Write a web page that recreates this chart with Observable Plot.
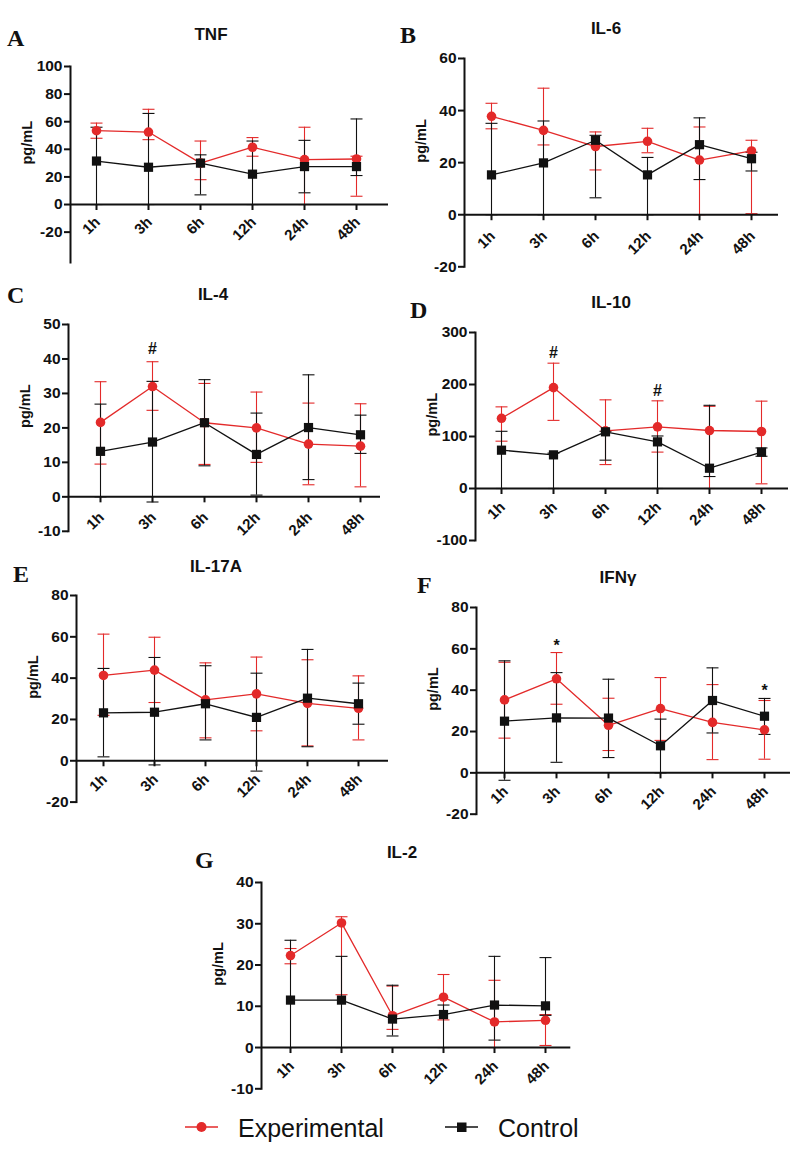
<!DOCTYPE html>
<html><head><meta charset="utf-8">
<script src="https://cdn.jsdelivr.net/npm/d3@7"></script>
<script src="https://cdn.jsdelivr.net/npm/@observablehq/plot@0.6"></script>
<style>
body{margin:0;background:#fff;}
#page{position:relative;width:800px;height:1149px;overflow:hidden;font-family:"Liberation Sans",Arial,sans-serif;color:#111;}
.panel{position:absolute;overflow:visible;}
.letter{position:absolute;font-family:"Liberation Serif","Times New Roman",serif;font-weight:bold;font-size:24px;line-height:24px;white-space:nowrap;}
.title{position:absolute;font-weight:bold;font-size:17px;line-height:17px;width:200px;text-align:center;white-space:nowrap;}
.legtext{position:absolute;font-size:25px;line-height:25px;white-space:nowrap;}
.legicon{position:absolute;}
</style></head><body><div id="page"></div>
<script>
// ---------- data ----------
const hours = ["1h", "3h", "6h", "12h", "24h", "48h"];
const seriesNames = ["Experimental", "Control"];

// A: TNF
const tnfTicks = [-20, 0, 20, 40, 60, 80, 100];
const tnfExpMean = [53.5, 52.5, 30, 41.5, 32.5, 33];
const tnfExpLow = [48, 47, 18, 35, 0, 6];
const tnfExpHigh = [59, 69, 46, 48.5, 56, 35];
const tnfCtlMean = [31.5, 27, 30, 22, 27.5, 27.5];
const tnfCtlLow = [0, 0, 7, 0, 8.5, 21];
const tnfCtlHigh = [56, 66, 36, 46, 46.5, 62];

// B: IL-6
const il6Ticks = [-20, 0, 20, 40, 60];
const il6ExpMean = [37.8, 32.4, 26.2, 28.2, 21, 24.5];
const il6ExpLow = [33, 26.8, 17.2, 23.8, 0, 0.4];
const il6ExpHigh = [42.8, 48.6, 31.8, 33.2, 33.7, 28.6];
const il6CtlMean = [15.3, 19.9, 28.6, 15.3, 26.9, 21.5];
const il6CtlLow = [0, 0, 6.5, 0, 13.5, 16.8];
const il6CtlHigh = [35.1, 36, 30.5, 22, 37.2, 24];

// C: IL-4
const il4Ticks = [-10, 0, 10, 20, 30, 40, 50];
const il4ExpMean = [21.6, 32, 21.5, 20, 15.3, 14.7];
const il4ExpLow = [9.5, 25.1, 9.4, 10, 3.5, 2.9];
const il4ExpHigh = [33.4, 39.2, 32.9, 30.4, 27.2, 27];
const il4CtlMean = [13.2, 15.9, 21.5, 12.3, 20.1, 18];
const il4CtlLow = [0, -1.5, 9, 0.5, 5, 12.6];
const il4CtlHigh = [26.9, 33.5, 34, 24.3, 35.4, 23.7];
const il4NoteHours = ["3h"];
const il4NoteValues = [43];
const il4NoteMarks = ["#"];

// D: IL-10
const il10Ticks = [-100, 0, 100, 200, 300];
const il10ExpMean = [135, 194, 111, 118.6, 111.5, 109.6];
const il10ExpLow = [91, 131, 46, 70, 0, 9];
const il10ExpHigh = [157, 241, 170.5, 168.6, 158, 168];
const il10CtlMean = [73.7, 64.7, 109, 89.7, 39, 70];
const il10CtlLow = [0, 0, 54.5, 0, 23, 62];
const il10CtlHigh = [110, 68, 110, 101, 160, 78];
const il10NoteHours = ["3h", "12h"];
const il10NoteValues = [260, 187];
const il10NoteMarks = ["#", "#"];

// E: IL-17A
const il17Ticks = [-20, 0, 20, 40, 60, 80];
const il17ExpMean = [41.3, 43.9, 29.5, 32.4, 27.8, 25.4];
const il17ExpLow = [22, 28.2, 11.1, 14.5, 7.2, 10.1];
const il17ExpHigh = [61.3, 59.8, 47.4, 50.2, 48.9, 41.1];
const il17CtlMean = [23.2, 23.5, 27.6, 21, 30.3, 27.6];
const il17CtlLow = [1.9, -2, 10.1, -5, 6.8, 17.7];
const il17CtlHigh = [44.7, 50, 46, 42.4, 53.9, 37.6];

// F: IFNγ
const ifnTicks = [-20, 0, 20, 40, 60, 80];
const ifnExpMean = [35.3, 45.5, 23, 31.1, 24.4, 20.8];
const ifnExpLow = [16.8, 33.2, 10.8, 15.7, 6.4, 6.6];
const ifnExpHigh = [53.5, 58.2, 36.1, 46.1, 42.7, 35];
const ifnCtlMean = [25, 26.6, 26.5, 13.1, 35, 27.4];
const ifnCtlLow = [-3.6, 5.1, 7.4, 0, 19.3, 18.6];
const ifnCtlHigh = [54.2, 48.5, 45.3, 26, 50.8, 36];
const ifnNoteHours = ["3h", "48h"];
const ifnNoteValues = [61.5, 39.5];
const ifnNoteMarks = ["*", "*"];

// G: IL-2
const il2Ticks = [-10, 0, 10, 20, 30, 40];
const il2ExpMean = [22.3, 30.2, 7.7, 12.2, 6.2, 6.6];
const il2ExpLow = [20.3, 12.8, 4.4, 6.7, 0, 0.5];
const il2ExpHigh = [24, 31.7, 14.9, 17.7, 16.3, 8];
const il2CtlMean = [11.5, 11.5, 6.9, 8, 10.3, 10.1];
const il2CtlLow = [0, 0, 2.8, 0, 1.8, 7.8];
const il2CtlHigh = [26, 22.1, 15.1, 10.3, 22.1, 21.8];

// ---------- layout (pixels) ----------
const RED = "#e32a2a";
const BLK = "#111111";
const FONT = "'Liberation Sans', Arial, sans-serif";

const panels = [
  {letter: "A", title: "TNF", ticks: tnfTicks, yMin: -42,
   exp: [tnfExpMean, tnfExpLow, tnfExpHigh], ctl: [tnfCtlMean, tnfCtlLow, tnfCtlHigh], notes: null,
   L: 70, R: 388, T: 66, B: 262, inL: 26, inR: 32, ldy: 15, lx: 7, ly: 46, tx: 211, ty: 40},
  {letter: "B", title: "IL-6", ticks: il6Ticks, yMin: -20,
   exp: [il6ExpMean, il6ExpLow, il6ExpHigh], ctl: [il6CtlMean, il6CtlLow, il6CtlHigh], notes: null,
   L: 464, R: 778, T: 57.7, B: 266, inL: 27, inR: 27, ldy: 19, lx: 400, ly: 43, tx: 606, ty: 34},
  {letter: "C", title: "IL-4", ticks: il4Ticks, yMin: -10,
   exp: [il4ExpMean, il4ExpLow, il4ExpHigh], ctl: [il4CtlMean, il4CtlLow, il4CtlHigh],
   notes: [il4NoteHours, il4NoteValues, il4NoteMarks],
   L: 68, R: 380, T: 323.7, B: 530.5, inL: 31, inR: 20, ldy: 18, lx: 7, ly: 303, tx: 213, ty: 300},
  {letter: "D", title: "IL-10", ticks: il10Ticks, yMin: -100,
   exp: [il10ExpMean, il10ExpLow, il10ExpHigh], ctl: [il10CtlMean, il10CtlLow, il10CtlHigh],
   notes: [il10NoteHours, il10NoteValues, il10NoteMarks],
   L: 475, R: 788, T: 332.3, B: 540.3, inL: 26, inR: 27, ldy: 16, lx: 410, ly: 318, tx: 611, ty: 308},
  {letter: "E", title: "IL-17A", ticks: il17Ticks, yMin: -20,
   exp: [il17ExpMean, il17ExpLow, il17ExpHigh], ctl: [il17CtlMean, il17CtlLow, il17CtlHigh], notes: null,
   L: 76, R: 388, T: 595, B: 801.6, inL: 25, inR: 28, ldy: 16, lx: 13, ly: 582, tx: 216, ty: 572},
  {letter: "F", title: "IFNγ", ticks: ifnTicks, yMin: -20,
   exp: [ifnExpMean, ifnExpLow, ifnExpHigh], ctl: [ifnCtlMean, ifnCtlLow, ifnCtlHigh],
   notes: [ifnNoteHours, ifnNoteValues, ifnNoteMarks],
   L: 476, R: 790, T: 607.3, B: 814, inL: 27, inR: 26, ldy: 16, lx: 417, ly: 593, tx: 618, ty: 583},
  {letter: "G", title: "IL-2", ticks: il2Ticks, yMin: -10,
   exp: [il2ExpMean, il2ExpLow, il2ExpHigh], ctl: [il2CtlMean, il2CtlLow, il2CtlHigh], notes: null,
   L: 260.7, R: 570, T: 882.3, B: 1088.6, inL: 27, inR: 23, ldy: 16, lx: 195, ly: 868, tx: 402, ty: 858}
];

const ML = 58, MR = 4, MT = 10, MB = 10;
const page = document.getElementById("page");

// horizontal cap symbol for error bars (12px wide)
const capSymbol = {draw(context) { context.moveTo(-6, 0); context.lineTo(6, 0); }};

function rows([mean, low, high], group) {
  return hours.map((h, i) => ({hour: h, mean: mean[i], low: low[i], high: high[i], group}));
}

function errorBars(data, color) {
  return [
    Plot.ruleX(data, {x: "hour", y1: "low", y2: "high", stroke: color, strokeWidth: 1.1}),
    Plot.dot(data, {x: "hour", y: "low", symbol: capSymbol, stroke: color, fill: "none", strokeWidth: 1.1}),
    Plot.dot(data, {x: "hour", y: "high", symbol: capSymbol, stroke: color, fill: "none", strokeWidth: 1.1})
  ];
}

for (const p of panels) {
  const expRows = rows(p.exp, seriesNames[0]);
  const ctlRows = rows(p.ctl, seriesNames[1]);
  const noteRows = p.notes ? p.notes[0].map((h, i) => ({hour: h, value: p.notes[1][i], mark: p.notes[2][i]})) : [];
  const width = (p.R - p.L) + ML + MR;
  const height = (p.B - p.T) + MT + MB;
  const chart = Plot.plot({
    width, height,
    marginLeft: ML, marginRight: MR, marginTop: MT, marginBottom: MB,
    style: {fontFamily: FONT, fontWeight: "bold", fontSize: "15px", background: "transparent", overflow: "visible", color: BLK},
    x: {type: "point", domain: hours, padding: 0, insetLeft: p.inL, insetRight: p.inR, axis: null},
    y: {domain: [p.yMin, d3.max(p.ticks)], axis: null},
    marks: [
      ...errorBars(expRows, RED),
      ...errorBars(ctlRows, BLK),
      // axes
      Plot.frame({anchor: "left", strokeWidth: 2, stroke: BLK}),
      Plot.ruleY([0], {strokeWidth: 2, stroke: BLK}),
      Plot.ruleX(hours, {x: d => d, y1: 0, y2: 0, insetBottom: -6, strokeWidth: 2, stroke: BLK}),
      Plot.axisY({ticks: p.ticks, tickSize: 6, tickPadding: 2, strokeWidth: 2, fontSize: 15.5, fontWeight: "bold", label: null, tickFormat: d => String(d)}),
      Plot.text(hours, {x: d => d, y: 0, text: d => d, rotate: -45, textAnchor: "end", dx: 1, dy: p.ldy, fontSize: 15, fontWeight: "bold", fill: BLK}),
      Plot.text(["pg/mL"], {text: d => d, frameAnchor: "left", rotate: -90, dx: -43, fontSize: 14.5, fontWeight: "bold", fill: BLK}),
      // lines and points
      Plot.line(expRows, {x: "hour", y: "mean", stroke: RED, strokeWidth: 1.3}),
      Plot.line(ctlRows, {x: "hour", y: "mean", stroke: BLK, strokeWidth: 1.3}),
      Plot.dot(expRows, {x: "hour", y: "mean", symbol: "circle", r: 4.8, fill: RED, stroke: "none"}),
      Plot.dot(ctlRows, {x: "hour", y: "mean", symbol: "square", r: 5.2, fill: BLK, stroke: "none"}),
      Plot.text(noteRows, {x: "hour", y: "value", text: "mark", fontSize: 16, fontWeight: "bold", fill: BLK})
    ]
  });
  chart.classList.add("panel");
  chart.style.left = (p.L - ML) + "px";
  chart.style.top = (p.T - MT) + "px";
  page.appendChild(chart);

  const letter = document.createElement("div");
  letter.className = "letter";
  letter.textContent = p.letter;
  letter.style.left = p.lx + "px";
  letter.style.top = (p.ly - 0.8375 * 24) + "px";
  page.appendChild(letter);

  const title = document.createElement("div");
  title.className = "title";
  title.textContent = p.title;
  title.style.left = (p.tx - 100) + "px";
  title.style.top = (p.ty - 0.8465 * 17) + "px";
  page.appendChild(title);
}

// ---------- legend ----------
function legendItem(name, color, symbol, iconLeft, textLeft) {
  const svg = d3.create("svg").attr("class", "legicon").attr("width", 40).attr("height", 20)
    .style("left", iconLeft + "px").style("top", "1117px");
  svg.append("line").attr("x1", 3).attr("x2", 36).attr("y1", 10).attr("y2", 10)
    .attr("stroke", color).attr("stroke-width", 1.5);
  if (symbol === "circle") svg.append("circle").attr("cx", 19.5).attr("cy", 10).attr("r", 5).attr("fill", color);
  else svg.append("rect").attr("x", 15).attr("y", 5.5).attr("width", 9.5).attr("height", 9.5).attr("fill", color);
  page.appendChild(svg.node());
  const t = document.createElement("div");
  t.className = "legtext";
  t.textContent = name;
  t.style.left = textLeft + "px";
  t.style.top = (1136.7 - 0.8465 * 25) + "px";
  page.appendChild(t);
}
legendItem(seriesNames[0], RED, "circle", 182, 238);
legendItem(seriesNames[1], BLK, "square", 442, 498);
</script>
</body></html>
